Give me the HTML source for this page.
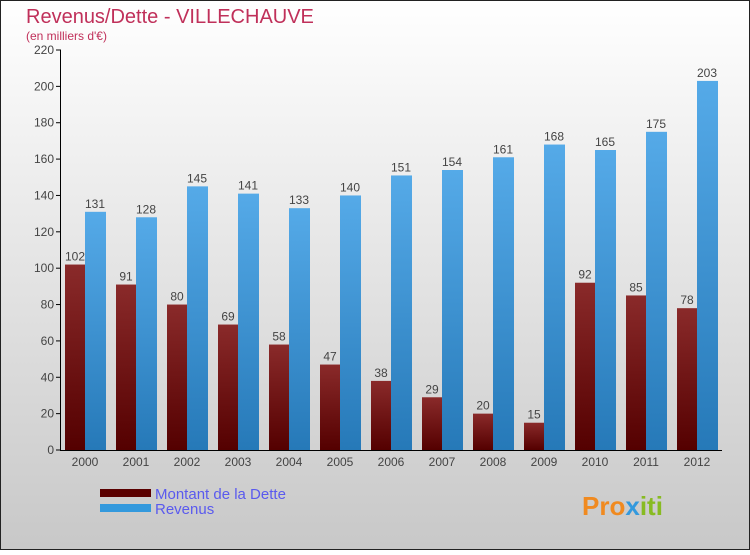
<!DOCTYPE html>
<html><head><meta charset="utf-8"><style>
body{margin:0;width:750px;height:550px;overflow:hidden;font-family:"Liberation Sans",sans-serif}
</style></head><body>
<svg id="chart" width="750" height="550" xmlns="http://www.w3.org/2000/svg">
<defs>
<linearGradient id="bg" x1="0" y1="0" x2="0" y2="1"><stop offset="0" stop-color="#ffffff"/><stop offset="1" stop-color="#c8c8c8"/></linearGradient>
<linearGradient id="gd" x1="0" y1="0" x2="0" y2="1"><stop offset="0" stop-color="#8a2a2a"/><stop offset="1" stop-color="#540000"/></linearGradient>
<linearGradient id="gr" x1="0" y1="0" x2="0" y2="1"><stop offset="0" stop-color="#55aae8"/><stop offset="1" stop-color="#2679b8"/></linearGradient>
</defs>
<rect x="0.5" y="0.5" width="749" height="549" fill="url(#bg)" stroke="#222"/>
<text x="26" y="23" font-size="20" fill="#c0305a">Revenus/Dette - VILLECHAUVE</text>
<text x="26" y="40" font-size="12" fill="#c0305a">(en milliers d'€)</text>
<g id="plot"></g>
<g>
<rect x="100" y="489" width="51" height="8" fill="#5a0000"/>
<text x="155" y="499" font-size="15" fill="#5a5aee">Montant de la Dette</text>
<rect x="100" y="504" width="51" height="8" fill="#3399dd"/>
<text x="155" y="514" font-size="15" fill="#5a5aee">Revenus</text>
</g>
<text x="582" y="515" font-size="26" font-weight="bold" fill="#f08a20">Pro<tspan fill="#3399dd">x</tspan><tspan fill="#88bb22">iti</tspan></text>
</svg>
<script>
const years=["2000","2001","2002","2003","2004","2005","2006","2007","2008","2009","2010","2011","2012"];
const dette=[102,91,80,69,58,47,38,29,20,15,92,85,78];
const revenus=[131,128,145,141,133,140,151,154,161,168,165,175,203];
const yTicks=[0,20,40,60,80,100,120,140,160,180,200,220];
const NS="http://www.w3.org/2000/svg";
const g=document.getElementById('plot');
const y0=450,yTop=50,yMax=220;
function y(v){return y0-v/yMax*(y0-yTop);}
function x(i){return 85+i*51;}
function mk(t,a){const e=document.createElementNS(NS,t);for(const k in a)e.setAttribute(k,a[k]);g.appendChild(e);return e;}
yTicks.forEach(v=>{
 const l=mk('line',{x1:56,x2:61,y1:y(v),y2:y(v),stroke:'#000'});
 
 
 const t=mk('text',{x:54,y:y(v)+4,'font-size':12,fill:'#444','text-anchor':'end'});t.textContent=v;
 
 
});
years.forEach((yr,i)=>{
 const cx=x(i);
 const b1=mk('rect',{x:cx-20,y:y(dette[i]),width:20,height:y0-y(dette[i]),fill:'url(#gd)'});
 
 
 const b2=mk('rect',{x:cx,y:y(revenus[i]),width:21,height:y0-y(revenus[i]),fill:'url(#gr)'});
 
 
 const t1=mk('text',{x:cx-10,y:y(dette[i])-4,'font-size':12,fill:'#444','text-anchor':'middle'});t1.textContent=dette[i];
 
 
 const t2=mk('text',{x:cx+10,y:y(revenus[i])-4,'font-size':12,fill:'#444','text-anchor':'middle'});t2.textContent=revenus[i];
 
 
 const tl=mk('text',{x:cx,y:466,'font-size':12,fill:'#444','text-anchor':'middle'});tl.textContent=yr;
 
 
});
const ax=mk('line',{x1:60.5,x2:60.5,y1:50,y2:450,stroke:'#000'});


const bx=mk('line',{x1:60,x2:722,y1:450.5,y2:450.5,stroke:'#000'});


</script>
</body></html>
